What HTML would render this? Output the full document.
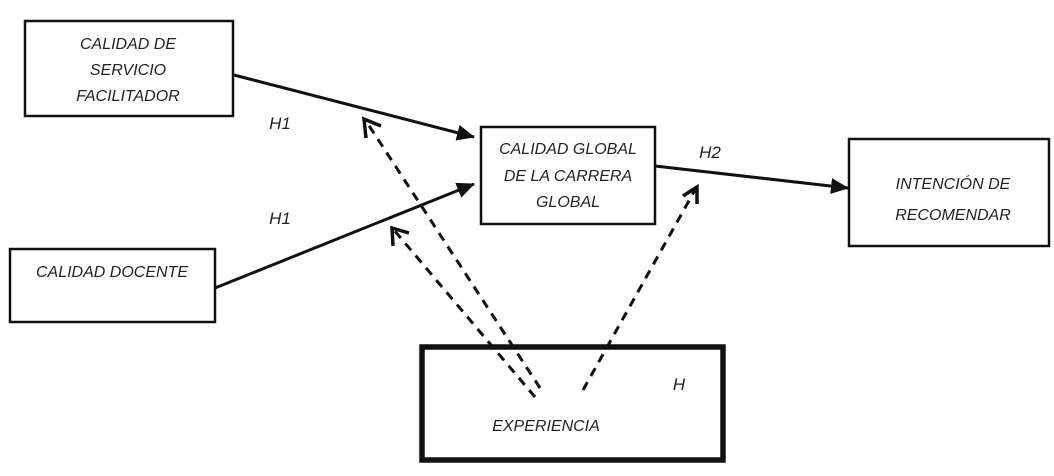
<!DOCTYPE html>
<html><head><meta charset="utf-8"><style>
html,body{margin:0;padding:0;background:#fff;}
svg text{font-family:"Liberation Sans",sans-serif;font-style:italic;font-size:16px;fill:#222;}
</style></head><body>
<svg width="1054" height="471" viewBox="0 0 1054 471" xmlns="http://www.w3.org/2000/svg">
<defs>
<marker id="b" markerWidth="18" markerHeight="16" refX="17" refY="8" orient="auto" markerUnits="userSpaceOnUse">
<path d="M0,0 L18,8 L0,16 z" fill="#111"/>
</marker>
</defs>
<g fill="none" stroke="#111">
<rect x="25" y="21" width="208" height="95" stroke-width="2.5"/>
<rect x="10" y="249" width="205" height="73" stroke-width="2.5"/>
<rect x="481" y="127" width="174" height="97" stroke-width="2.5"/>
<rect x="849" y="139" width="200" height="107" stroke-width="2.5"/>
<rect x="422" y="347" width="301" height="113" stroke-width="5.5"/>
</g>
<g stroke="#111" stroke-width="3" fill="none">
<line x1="234" y1="75" x2="474" y2="137" marker-end="url(#b)"/>
<line x1="215" y1="288" x2="474" y2="184" marker-end="url(#b)"/>
<line x1="655" y1="166" x2="848" y2="188" marker-end="url(#b)"/>
</g>
<g stroke="#111" stroke-width="3" fill="none" stroke-dasharray="9,7">
<line x1="540" y1="388" x2="366" y2="121"/>
<line x1="535" y1="397" x2="394" y2="230"/>
<line x1="583" y1="390" x2="695" y2="190"/>
</g>
<g stroke="#111" stroke-width="3.5" fill="none">
<path d="M366,138 L364,119 L381,126"/>
<path d="M393,246 L392,228 L409,233"/>
<path d="M683,196 L697,187 L697,204"/>
</g>
<g text-anchor="middle">
<text x="128" y="49">CALIDAD DE</text>
<text x="128" y="75">SERVICIO</text>
<text x="128" y="101">FACILITADOR</text>
<text x="112" y="277">CALIDAD DOCENTE</text>
<text x="568" y="154">CALIDAD GLOBAL</text>
<text x="568" y="181">DE LA CARRERA</text>
<text x="568" y="207">GLOBAL</text>
<text x="953" y="189">INTENCIÓN DE</text>
<text x="953" y="220">RECOMENDAR</text>
<text x="546" y="431">EXPERIENCIA</text>
<text x="280" y="129" style="font-size:17px">H1</text>
<text x="280" y="224" style="font-size:17px">H1</text>
<text x="710" y="158" style="font-size:17px">H2</text>
<text x="679" y="390" style="font-size:17px">H</text>
</g>
</svg>
</body></html>
